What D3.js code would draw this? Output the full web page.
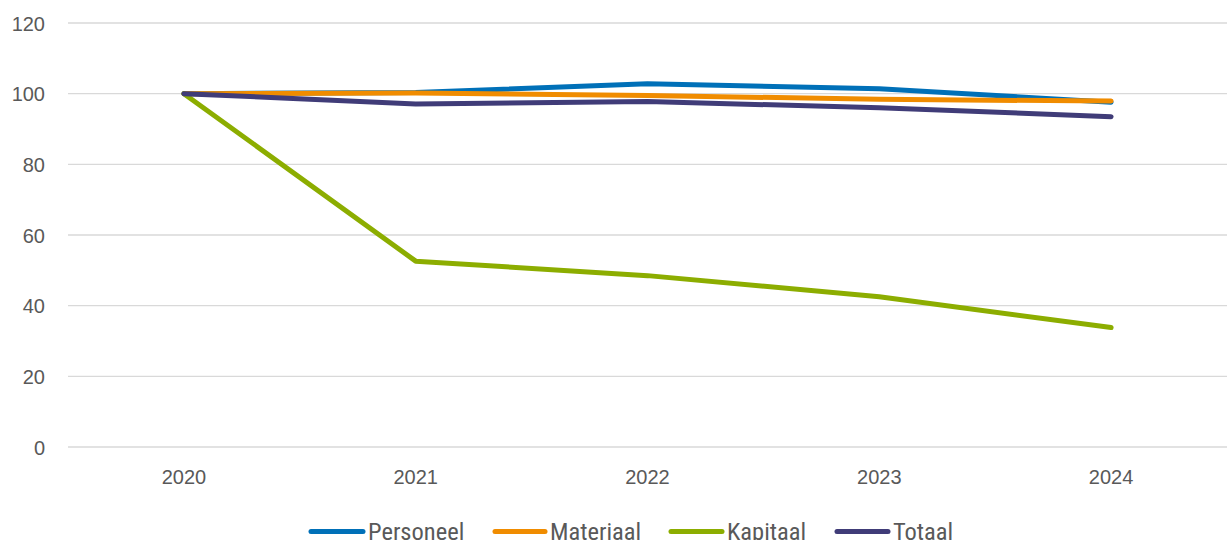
<!DOCTYPE html>
<html>
<head>
<meta charset="utf-8">
<script src="https://cdn.jsdelivr.net/npm/d3@7"></script>
<style>
  html, body { margin: 0; padding: 0; background: #fff; }
  svg { display: block; }
</style>
</head>
<body>
<svg id="chart" width="1227" height="540"></svg>
<script>
// Index figures (2020 = 100)
const years = ["2020", "2021", "2022", "2023", "2024"];
const personeel = [100, 100.3, 102.8, 101.4, 97.6];
const materiaal = [100, 100.2, 99.5, 98.4, 97.9];
const kapitaal = [100, 52.6, 48.5, 42.5, 33.8];
const totaal = [100, 97.1, 97.8, 96.0, 93.5];
const yTicks = [0, 20, 40, 60, 80, 100, 120];

const seriesNames = ["Personeel", "Materiaal", "Kapitaal", "Totaal"];
const seriesValues = [personeel, materiaal, kapitaal, totaal];
const seriesColors = ["#0070B8", "#F08C00", "#8CAD00", "#403C78"];

const svg = d3.select("#chart");
const margin = { left: 68, right: 0, top: 23, bottom: 93 };
const W = 1227, H = 540;

const x = d3.scaleBand().domain(years).range([margin.left, W - margin.right]);
const y = d3.scaleLinear().domain([0, 120]).range([H - margin.bottom, margin.top]);

const axisFont = "'Liberation Sans', Arial, sans-serif";

// Horizontal gridlines
svg.append("g")
  .selectAll("line")
  .data(yTicks)
  .join("line")
  .attr("x1", margin.left).attr("x2", W - margin.right)
  .attr("y1", d => y(d)).attr("y2", d => y(d))
  .attr("stroke", "#d9d9d9").attr("stroke-width", 1.3);

// Y axis labels
const yAxis = svg.append("g")
  .attr("transform", `translate(${margin.left - 23},0)`)
  .call(d3.axisLeft(y).tickValues(yTicks).tickSize(0).tickPadding(0));
yAxis.select(".domain").remove();
yAxis.selectAll("text")
  .attr("fill", "#595959")
  .attr("dy", "0.36em")
  .style("font-family", axisFont)
  .style("font-size", "20px");

// X axis labels
const xAxis = svg.append("g")
  .attr("transform", `translate(0,${y(0) + 23})`)
  .call(d3.axisBottom(x).tickSize(0).tickPadding(0));
xAxis.select(".domain").remove();
xAxis.selectAll("text")
  .attr("fill", "#595959")
  .style("font-family", axisFont)
  .style("font-size", "20px");

// Lines
const line = d3.line()
  .x((d, i) => x(years[i]) + x.bandwidth() / 2)
  .y(d => y(d));

svg.append("g")
  .selectAll("path")
  .data(seriesValues)
  .join("path")
  .attr("d", d => line(d))
  .attr("fill", "none")
  .attr("stroke", (d, i) => seriesColors[i])
  .attr("stroke-width", 5)
  .attr("stroke-linecap", "round")
  .attr("stroke-linejoin", "round");

// Legend
const legendItems = [
  { x: 311, tx: 368 },
  { x: 495, tx: 550 },
  { x: 671, tx: 727 },
  { x: 837, tx: 893 }
];
const legendY = 531.5;
const lg = svg.append("g")
  .selectAll("g")
  .data(seriesNames)
  .join("g");
lg.append("line")
  .attr("x1", (d, i) => legendItems[i].x)
  .attr("x2", (d, i) => legendItems[i].tx - 5)
  .attr("y1", legendY).attr("y2", legendY)
  .attr("stroke", (d, i) => seriesColors[i])
  .attr("stroke-width", 5)
  .attr("stroke-linecap", "round");
lg.append("text")
  .attr("x", (d, i) => legendItems[i].tx)
  .attr("y", 540)
  .attr("fill", "#595959")
  .style("font-family", "'Roboto Condensed', 'Liberation Sans Narrow', sans-serif")
  .style("font-size", "24.5px")
  .text(d => d);
</script>
</body>
</html>
